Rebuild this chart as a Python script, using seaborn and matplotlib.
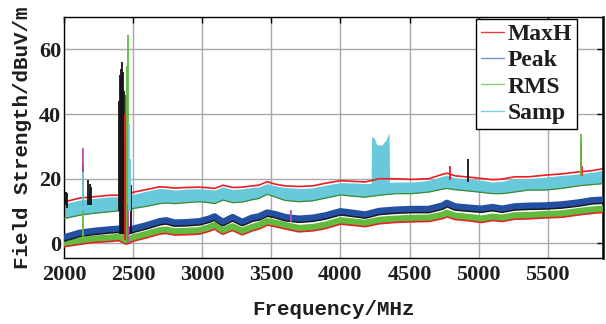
import numpy as np
import pandas as pd
import matplotlib
matplotlib.use("Agg")
import matplotlib.pyplot as plt
import matplotlib.patheffects as pe
from matplotlib.lines import Line2D
from matplotlib.font_manager import FontProperties
import seaborn as sns

# ---------------- data ----------------
freq = [2000, 2110, 2210, 2330, 2400, 2450, 2500, 2600, 2690, 2740, 2800, 2880,
        2980, 3050, 3090, 3150, 3220, 3290, 3360, 3410, 3470, 3530, 3600, 3700,
        3800, 3890, 4000, 4090, 4180, 4280, 4400, 4520, 4640, 4740, 4770, 4830,
        4930, 5020, 5100, 5170, 5260, 5360, 5480, 5600, 5720, 5820, 5900]

peak = [1.9, 3.3, 3.9, 4.4, 4.6, 3.9, 4.6, 5.7, 6.9, 7.2, 6.5, 6.6,
        6.9, 7.7, 8.4, 6.7, 8.2, 6.7, 8.0, 8.4, 9.6, 9.1, 8.2, 7.7,
        8.0, 8.7, 10.0, 9.5, 9.0, 10.1, 10.5, 10.7, 10.7, 11.8, 12.6, 11.5,
        11.1, 10.8, 11.3, 10.8, 11.5, 11.7, 11.8, 12.1, 12.7, 13.4, 13.6]

rms = [0.2, 0.9, 1.5, 1.8, 2.1, 1.0, 1.9, 3.0, 4.1, 4.3, 3.8, 3.9,
       4.1, 5.0, 5.7, 4.1, 5.3, 3.9, 5.1, 5.7, 6.9, 6.4, 5.7, 4.8,
       5.1, 5.8, 7.2, 6.8, 6.4, 7.3, 7.7, 7.9, 8.0, 8.9, 9.5, 8.6,
       8.2, 7.7, 8.3, 8.0, 8.7, 8.8, 9.1, 9.3, 10.0, 10.5, 10.8]

maxh = [12.8, 14.0, 14.4, 14.9, 14.9, 14.9, 15.8, 16.7, 17.5, 17.4, 17.1, 17.3,
        17.4, 17.2, 17.0, 18.0, 17.3, 17.4, 17.8, 18.0, 19.1, 18.3, 17.8, 17.6,
        17.8, 18.6, 19.4, 19.2, 19.0, 20.0, 20.0, 19.8, 20.0, 21.4, 21.7, 20.9,
        20.5, 20.1, 19.7, 19.9, 20.6, 20.6, 21.1, 21.5, 22.1, 22.5, 23.1]

samp_freq = [2000, 2110, 2210, 2330, 2400, 2450, 2500, 2600, 2690, 2740, 2800, 2880,
             2980, 3050, 3090, 3150, 3220, 3290, 3360, 3410, 3470, 3530, 3600, 3700,
             3800, 3890, 4000, 4090, 4180, 4222, 4226, 4245, 4262, 4300, 4330, 4352,
             4356, 4400, 4520, 4640, 4740, 4770, 4830, 4930, 5020, 5100, 5170, 5260,
             5360, 5480, 5600, 5720, 5820, 5900]
samp_lo = [7.7, 8.7, 9.3, 9.8, 10.1, 10.3, 10.8, 11.5, 12.3, 12.5, 12.3, 12.6,
           12.9, 12.6, 12.3, 13.4, 12.6, 12.8, 13.5, 13.9, 15.2, 14.3, 13.3, 12.9,
           13.2, 14.0, 15.0, 14.6, 14.3, 14.6, 14.6, 14.7, 14.8, 15.0, 15.1, 15.2,
           15.2, 15.4, 15.4, 15.9, 16.8, 17.0, 16.6, 16.2, 15.8, 15.4, 15.4, 15.9,
           16.5, 16.5, 17.0, 17.8, 18.2, 18.5]
samp_hi = [12.3, 13.4, 13.9, 14.4, 14.4, 14.4, 15.2, 16.2, 17.0, 16.9, 16.5, 16.8,
           16.9, 16.7, 16.5, 17.5, 16.7, 16.9, 17.3, 17.5, 18.5, 17.8, 17.3, 17.0,
           17.2, 18.0, 18.8, 18.7, 18.5, 18.6, 33.0, 32.6, 30.6, 30.4, 32.0, 34.2,
           18.9, 19.0, 19.0, 19.5, 20.8, 21.1, 20.3, 19.9, 19.5, 19.0, 19.2, 20.0,
           20.0, 20.5, 21.0, 21.5, 22.0, 22.6]

# narrow spectral spikes: frequency, bottom level, top level, trace
spike_freq = [2012, 2020, 2137, 2172, 2185, 2197, 2395, 2402, 2409, 2416, 2423, 2430,
              2437, 2444, 2482, 4922,
              2438, 2446, 2452, 2458, 4790, 5738, 5744, 5750,
              2455, 2462, 2137, 5740,
              2137, 2472, 2478,
              2137, 2464, 3640]
spike_low = [12, 11, 12, 12, 12, 12, 10, 3, 3, 3, 3, 3,
             3, 3, 3, 19,
             1, 1, 1, 1, 19.5, 21, 21, 21,
             0, 0, 0, 21,
             10, 10, 10,
             13, 0, 6.5]
spike_high = [16, 15.5, 25, 19.5, 18.5, 17.5, 44, 52, 54, 50, 56, 53,
              47, 30, 18, 26.2,
              40, 46, 33, 13, 24, 31.5, 27, 24,
              55, 64.5, 10, 33.7,
              22, 37, 26,
              29.5, 12, 10.3]
spike_trace = ["Aux1"] * 16 + ["MaxH"] * 8 + ["RMS"] * 4 + ["Samp"] * 3 + ["Aux2"] * 3

series_names = ["MaxH", "Peak", "RMS", "Samp"]
x_ticks = [2000, 2500, 3000, 3500, 4000, 4500, 5000, 5500]
y_ticks = [0, 20, 40, 60]

# ---------------- styling ----------------
colors = {"MaxH": "#ec1c24", "Peak": "#2350a3", "RMS": "#62bb3e",
          "Samp": "#68c9da", "Aux1": "#141414", "Aux2": "#c04aae"}
legend_colors = {"MaxH": "#e83a3a", "Peak": "#6f8fcf", "RMS": "#86d474",
                 "Samp": "#74d2e2"}

sns.set_theme(style="white")
fig, ax = plt.subplots(figsize=(6.06, 3.24), dpi=100)
fig.subplots_adjust(left=64 / 606, right=603 / 606, bottom=66 / 324, top=307 / 324)

# MaxH top envelope
sns.lineplot(x=freq, y=maxh, color=colors["MaxH"], linewidth=1.2, ax=ax,
             zorder=2, estimator=None)

# Samp band (min..max of the read envelope)
samp_df = pd.DataFrame({"freq": samp_freq + samp_freq,
                        "level": samp_lo + samp_hi})
sns.lineplot(data=samp_df, x="freq", y="level", estimator="mean",
             errorbar=("pi", 100), color=colors["Samp"], linewidth=0,
             err_kws={"alpha": 1.0, "linewidth": 0}, ax=ax, zorder=3)
sns.lineplot(x=samp_freq, y=samp_lo, color="#3f8a33", linewidth=0.9, ax=ax,
             zorder=3.1, estimator=None)

# Peak and RMS bands
sns.lineplot(x=freq, y=peak, color=colors["Peak"], linewidth=4.4, ax=ax,
             zorder=3.5, estimator=None,
             path_effects=[pe.SimpleLineShadow(offset=(0, -1.1), shadow_color="#1a1a1a",
                                               alpha=1.0),
                           pe.Normal()])
sns.lineplot(x=freq, y=rms, color=colors["RMS"], linewidth=4.4, ax=ax,
             zorder=3.4, estimator=None,
             path_effects=[pe.SimpleLineShadow(offset=(0, -1.2), shadow_color="#e02424",
                                               alpha=1.0),
                           pe.Normal()])

# spikes
spike_df = pd.DataFrame({"freq": spike_freq, "low": spike_low,
                         "high": spike_high, "trace": spike_trace})
for trace, z in [("Aux1", 4.0), ("MaxH", 4.1), ("RMS", 4.2), ("Aux2", 4.3), ("Samp", 4.4)]:
    d = spike_df[spike_df["trace"] == trace]
    ax.vlines(d["freq"], d["low"], d["high"], colors=colors[trace], linewidth=1.3,
              zorder=z)

# axes
ax.set_xlim(2000, 5900)
ax.set_ylim(-4.5, 70)
ax.set_xticks(x_ticks)
ax.set_yticks(y_ticks)
ax.grid(True, color="#a9a9a9", linewidth=1.0)
ax.set_axisbelow(True)
for s in ax.spines.values():
    s.set_color("black")
    s.set_linewidth(1.0)
ax.spines["right"].set_linewidth(1.8)

tick_font = FontProperties(family="Liberation Serif", weight="bold", size=16)
ax.tick_params(direction="in", length=4, width=1, top=True, right=True,
               colors="black", labelcolor="#1e1e1e", pad=5)
ax.tick_params(axis="y", pad=2)
for lab in ax.get_xticklabels() + ax.get_yticklabels():
    lab.set_fontproperties(tick_font)

label_font = FontProperties(family="Liberation Mono", weight="bold", size=15)
ax.set_xlabel("Frequency/MHz", fontproperties=label_font, color="#1e1e1e", labelpad=11)
ax.set_ylabel("Field Strength/dBuV/m", fontproperties=label_font, color="#1e1e1e",
              labelpad=5)

handles = [Line2D([], [], color=legend_colors[n], linewidth=1.0) for n in series_names]
leg = ax.legend(handles, series_names, loc="upper right",
                bbox_to_anchor=((577 - 64) / 539, (258 - 19) / 241),
                borderaxespad=0, frameon=True, fancybox=False,
                prop=FontProperties(family="Liberation Serif", weight="bold", size=17),
                handlelength=1.0, handletextpad=0.15, labelspacing=0.2,
                borderpad=0.2)
leg.get_frame().set_edgecolor("black")
leg.get_frame().set_linewidth(1.0)
leg.get_frame().set_alpha(1.0)
leg.set_zorder(10)
for t in leg.get_texts():
    t.set_color("#1e1e1e")

fig.savefig("out.png", dpi=100)
